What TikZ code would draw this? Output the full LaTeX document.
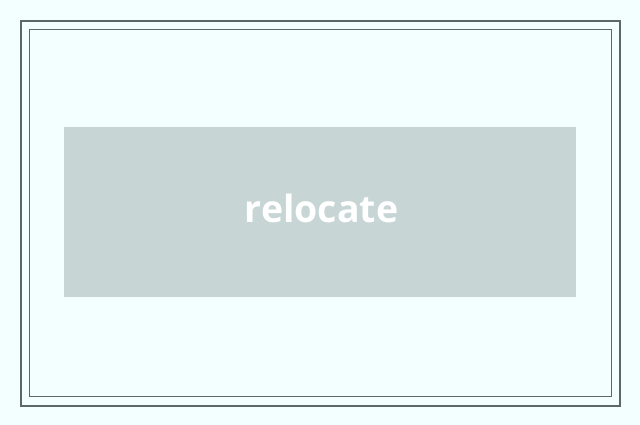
\documentclass[tikz,border=0pt]{standalone}
\usepackage{fontspec}
\setmainfont{Open Sans}
\definecolor{bgc}{HTML}{F3FFFF}
\definecolor{framec}{HTML}{5A6868}
\definecolor{boxc}{HTML}{C7D5D5}
\begin{document}
\begin{tikzpicture}[x=1pt,y=-1pt,
  outerframe/.style={draw=framec,line width=2pt},
  innerframe/.style={draw=framec,line width=1pt},
  mainbox/.style={fill=boxc,draw=none,minimum width=512pt,minimum height=170pt,inner sep=0pt},
  boxtext/.style={inner sep=0pt,text=white,font=\fontsize{37.5}{42}\selectfont\bfseries}]
\fill[bgc] (0,0) rectangle (640,425);
\useasboundingbox (0,0) rectangle (640,425);
\draw[outerframe] (21,21) rectangle (620,405.5);
\draw[innerframe] (29.5,29.5) rectangle (611.5,396.5);
\node[mainbox] (box) at (320,212) {};
\node[boxtext] (label) at (321.5,208.5) {relocate};
\end{tikzpicture}
\end{document}
